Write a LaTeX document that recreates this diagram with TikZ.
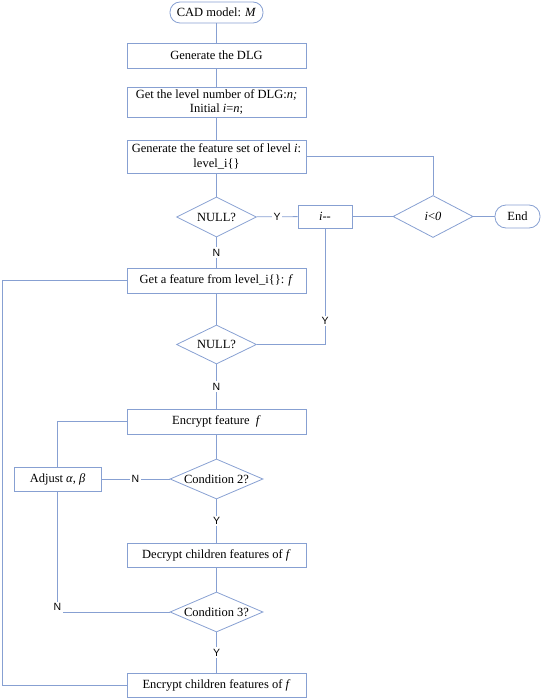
\documentclass[tikz,border=0pt]{standalone}
\usepackage{fontspec}
\setmainfont{Liberation Serif}
\newfontfamily\yesnofont{Liberation Sans}
\usepackage{tikz}
\usetikzlibrary{shapes.geometric, positioning, calc}
\definecolor{flowline}{RGB}{135, 160, 210}

\begin{document}
\begin{tikzpicture}[x=1pt, y=-1pt,
    font=\fontsize{12.5}{14.5}\selectfont,
    link/.style={draw=flowline, line width=0.8pt},
    procbox/.style={draw=flowline, line width=0.8pt, rectangle, minimum width=179pt, minimum height=25pt, inner sep=1pt, align=center},
    termbox/.style={draw=flowline, line width=0.8pt, rectangle, rounded corners=10pt, minimum height=21pt, inner sep=2pt},
    decbox/.style={draw=flowline, line width=0.8pt, diamond, aspect=2.3, inner sep=0pt, minimum width=80pt, minimum height=40pt},
    yn/.style={fill=white, inner sep=1.5pt, font=\yesnofont\fontsize{10.5}{12}\selectfont}]
\useasboundingbox (0,0) rectangle (543,698);
\node[termbox, minimum width=93pt] (start) at (216.5,12.5) {CAD model: \textit{M}};
\node[procbox] (dlg) at (216.5,55.5) {Generate the DLG};
\node[procbox, minimum height=30pt] (getn) at (216.5,102) {Get the level number of DLG:\textit{n;}\\Initial \textit{i}=\textit{n};};
\node[procbox, minimum height=33pt] (genset) at (216.5,156.5) {Generate the feature set of level \textit{i}:\\level\_i\{\}};
\node[decbox] (null1) at (216.5,217) {NULL?};
\node[draw=flowline, line width=0.8pt, minimum width=54pt, minimum height=23pt] (dec) at (325,216.5) {\textit{i}{-}{-}};
\node[decbox, minimum height=42pt] (lt0) at (433,216.5) {\textit{i}<\textit{0}};
\node[termbox, minimum width=45pt, minimum height=23pt, rounded corners=11pt] (end) at (517.5,216.5) {End};
\node[procbox] (getf) at (216.5,280.5) {Get a feature from level\_i\{\}: \textit{f}};
\node[decbox, minimum height=39pt] (null2) at (216.5,344.5) {NULL?};
\node[procbox] (enc) at (216.5,421.5) {Encrypt feature \ \textit{f}};
\node[decbox, minimum width=93pt] (cond2) at (216.5,479) {Condition 2?};
\node[draw=flowline, line width=0.8pt, minimum width=87pt, minimum height=24pt] (adj) at (57.5,479) {Adjust \textit{α}, \textit{β}};
\node[procbox, minimum height=24pt] (decc) at (216.5,555) {Decrypt children features of \textit{f}};
\node[decbox, minimum width=93pt] (cond3) at (216.5,612) {Condition 3?};
\node[procbox, minimum height=24pt] (encc) at (216.5,685) {Encrypt children features of \textit{f}};
\node[yn] (n3) at (57.5,607) {N};
% main column
\draw[link] (start) -- (dlg);
\draw[link] (dlg) -- (getn);
\draw[link] (getn) -- (genset);
\draw[link] (genset) -- (null1);
\draw[link] (null1) -- node[yn] {N} (getf);
\draw[link] (getf) -- (null2);
\draw[link] (null2) -- node[yn] {N} (enc);
\draw[link] (enc) -- (cond2);
\draw[link] (cond2) -- node[yn] {Y} (decc);
\draw[link] (decc) -- (cond3);
\draw[link] (cond3) -- node[yn] {Y} (encc);
% branches
\draw[link] (null1) -- node[yn] {Y} (dec);
\draw[link] (dec) -- (lt0);
\draw[link] (lt0) -- (end);
\draw[link] (genset.east) -| (lt0.north);
\draw[link] (null2.east) -| node[yn, pos=0.6] {Y} (dec.south);
\draw[link] (enc.west) -| (adj.north);
\draw[link] (cond2) -- node[yn] {N} (adj);
\draw[link] (cond3.west) -- (n3.east |- cond3.west);
\draw[link] (adj.south) -- (n3.north);
\draw[link] (encc.west) -- ++(-124,0) |- (getf.west);
\end{tikzpicture}
\end{document}
